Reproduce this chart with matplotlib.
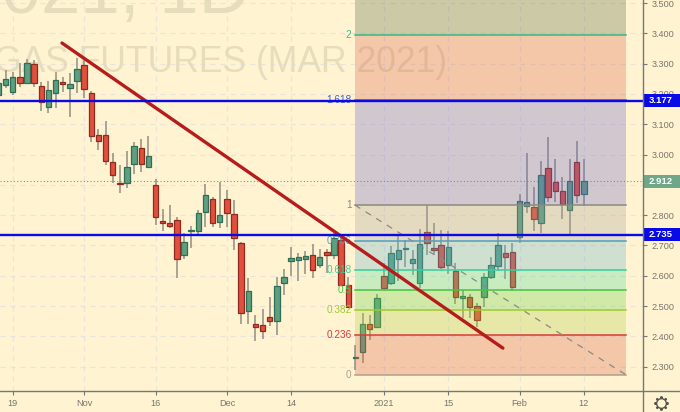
import matplotlib
matplotlib.use("Agg")
import matplotlib.pyplot as plt
from matplotlib.lines import Line2D
from matplotlib.patches import Rectangle
from matplotlib.transforms import blended_transform_factory
import numpy as np

plt.rcParams['font.family'] = ['Liberation Sans', 'DejaVu Sans']

# daily bars, Oct 2020 - Feb 2021
opens = [3.196,3.231,3.208,3.255,3.235,3.299,3.225,3.156,3.202,3.239,3.221,3.244,3.296,3.203,3.065,3.065,2.974,2.905,2.907,2.968,3.021,2.960,
         2.898,2.779,2.773,2.783,2.667,2.749,2.749,2.809,2.852,2.776,2.853,2.803,2.707,2.483,2.440,2.436,2.465,2.449,2.575,2.649,2.652,2.654,
         2.667,2.634,2.678,2.667,2.718,2.569,2.329,2.348,2.442,2.432,2.599,2.575,2.656,2.688,2.643,2.575,2.743,2.691,2.700,2.635,2.617,2.525,
         2.529,2.499,2.529,2.597,2.633,2.674,2.679,2.729,2.830,2.826,2.775,2.955,2.908,2.881,2.818,2.974,2.870]
closes = [3.235,3.248,3.255,3.235,3.301,3.237,3.173,3.212,3.245,3.233,3.232,3.282,3.216,3.061,3.045,2.977,2.933,2.902,2.958,3.027,2.968,2.996,
          2.793,2.775,2.765,2.656,2.710,2.751,2.807,2.865,2.775,2.800,2.806,2.723,2.476,2.551,2.430,2.419,2.452,2.565,2.597,2.660,2.662,2.665,
          2.619,2.663,2.667,2.726,2.569,2.498,2.331,2.440,2.423,2.525,2.561,2.674,2.685,2.691,2.654,2.705,2.707,2.685,2.630,2.696,2.529,2.532,
          2.496,2.454,2.597,2.634,2.700,2.663,2.564,2.848,2.842,2.787,2.934,2.861,2.881,2.836,2.912,2.867,2.912]
highs = [3.248,3.279,3.271,3.301,3.314,3.312,3.238,3.243,3.271,3.255,3.268,3.318,3.312,3.211,3.083,3.111,3.004,2.964,3.010,3.041,3.050,3.062,
         2.920,2.819,2.833,2.793,2.740,2.764,2.817,2.902,2.861,2.910,2.883,2.850,2.712,2.591,2.470,2.489,2.531,2.597,2.623,2.696,2.674,2.680,
         2.705,2.687,2.687,2.740,2.734,2.595,2.371,2.476,2.470,2.539,2.643,2.698,2.732,2.718,2.685,2.755,2.833,2.773,2.751,2.748,2.641,2.553,
         2.540,2.511,2.608,2.663,2.740,2.701,2.709,2.870,3.005,2.894,2.979,3.058,2.985,2.927,2.984,3.046,2.985]
lows = [3.191,3.219,3.197,3.224,3.233,3.222,3.145,3.138,3.153,3.206,3.123,3.202,3.186,3.041,3.015,2.964,2.905,2.874,2.891,2.935,2.942,2.954,
        2.768,2.749,2.756,2.594,2.654,2.693,2.731,2.762,2.760,2.758,2.762,2.685,2.441,2.441,2.386,2.392,2.435,2.404,2.536,2.599,2.583,2.606,
        2.591,2.626,2.608,2.654,2.569,2.498,2.289,2.313,2.388,2.432,2.553,2.569,2.584,2.630,2.602,2.558,2.668,2.672,2.622,2.605,2.506,2.459,
        2.459,2.430,2.498,2.588,2.614,2.590,2.551,2.709,2.808,2.746,2.740,2.843,2.843,2.787,2.738,2.840,2.831]

date_ticks = [2, 12, 22, 32, 41, 54, 63, 73, 82]
date_labels = ["19", "Nov", "16", "Dec", "14", "2021", "15", "Feb", "12"]
price_ticks = [2.3, 2.4, 2.5, 2.6, 2.7, 2.8, 2.9, 3.0, 3.1, 3.2, 3.3, 3.4, 3.5]

fib_ratios = [0, 0.236, 0.382, 0.5, 0.618, 0.786, 1, 1.618, 2]
fib_labels = ["0", "0.236", "0.382", "0.5", "0.618", "0.786", "1", "1.618", "2"]
fib_low = 2.272
fib_high = 2.833
fib_start = 49.94
fib_end = 87.96
fib_colors = ["#b0a090", "#d93b3b", "#9ccc2e", "#45c445", "#35cf9a", "#4f9fc4", "#8a8a80", "#3f5fd0", "#35b88a"]
fib_fills = ["#da6449", "#b2cf49", "#69d549", "#4bdc99", "#62b1cf", "#a8a399", "#6967cb", "#da6449", "#556b43"]

trend_x = [8.9, 70.66]
trend_y = [3.368, 2.361]
levels = [3.177, 2.735]
last_price = 2.912

BG = "#fff3d1"
GREY = "#77776f"
BLUE = "#0a0ae6"

fig = plt.figure(figsize=(6.8, 4.12), dpi=100, facecolor=BG)
ax = fig.add_axes([0, 21/412, 643/680, 391/412])
ax.patch.set_alpha(0)
ax.set_xlim(0.22, 90.28)
ax.set_ylim(2.2195, 3.51)

ax.grid(color="#d9d9e6", alpha=0.6, ls=(0, (4, 4)), lw=0.9)
ax.set_axisbelow(True)

# watermark
fig.text(221/680, 1-62/412, "GAS FUTURES (MAR 2021)", fontsize=25.6, color="#787b60", alpha=0.18,
         ha="center", va="center", zorder=-1)
fig.text(250/680, 1-13/412, "2021, 1D", fontsize=51, color="#787b60", alpha=0.18,
         ha="right", va="baseline", zorder=-1)

# candles
for i in range(len(opens)):
    up = closes[i] >= opens[i]
    body = "#5f9f80" if up else "#e0503c"
    edge = "#2f6e55" if up else "#8f2a20"
    ax.plot([i, i], [lows[i], highs[i]], color="#8f8f85", lw=1.1, zorder=2, solid_capstyle="butt")
    lo, hi = min(opens[i], closes[i]), max(opens[i], closes[i])
    ax.add_patch(Rectangle((i-0.38, lo), 0.76, hi-lo, fc=body, ec=edge, lw=0.9, zorder=3))

# fib retracement goes over the candles
fib_prices = [fib_low + r*(fib_high-fib_low) for r in fib_ratios]
tops = fib_prices[1:] + [3.51]
for low, top, c in zip(fib_prices, tops, fib_fills):
    ax.fill_between([fib_start, fib_end], low, top, color=c, alpha=0.3, lw=0, zorder=4)
for p, c, lab in zip(fib_prices, fib_colors, fib_labels):
    ax.plot([fib_start, fib_end], [p, p], color=c, lw=1.1, zorder=5)
    ax.annotate(lab, (fib_start, p), xytext=(-2.5, 0), textcoords="offset points", ha="right",
                va="center", fontsize=7.2, color=c, zorder=6)
ax.plot([fib_start, fib_end], [fib_high, fib_low], color="#8a8a85", lw=0.9, ls=(0, (5, 5)), zorder=5)

ax.plot(trend_x, trend_y, color="#b71c1c", lw=2.4, zorder=7, solid_capstyle="round")
for lvl in levels:
    ax.axhline(lvl, color=BLUE, lw=1.7, zorder=8)
ax.axhline(last_price, color="#6f9f7f", lw=0.8, ls=(0, (1, 2)), zorder=2.5)

ax.set_xticks(date_ticks)
ax.set_xticklabels(date_labels)
ax.set_yticks(price_ticks)
# the 2.900 label is hidden by the last price tag
ax.set_yticklabels(["" if p == 2.9 else f"{p:.3f}" for p in price_ticks])
ax.yaxis.tick_right()
ax.tick_params(axis="both", length=3, width=0.8, color=GREY, labelcolor=GREY, labelsize=6.6, pad=3)
for s in ax.spines.values():
    s.set_visible(False)
fig.add_artist(Line2D([0, 1], [21/412, 21/412], color=GREY, lw=1))
fig.add_artist(Line2D([643/680, 643/680], [0, 1], color=GREY, lw=1))

# price tags on the axis
tag = blended_transform_factory(fig.transFigure, ax.transData)
for lvl, c in [(levels[0], BLUE), (levels[1], BLUE), (last_price, "#6fa888")]:
    ax.add_patch(Rectangle((643/680, lvl-0.0215), 37/680, 0.043, transform=tag, fc=c, ec="none",
                           clip_on=False, zorder=10))
    ax.text(661/680, lvl, f"{lvl:.3f}", transform=tag, ha="center", va="center", fontsize=6.8,
            color="white", fontweight="bold", clip_on=False, zorder=11)

# settings gear in the corner
fig.add_artist(Line2D([661/680], [1-403/412], marker=(8, 2), ms=10, mew=1.5, mec="#555550", ls="none"))
fig.add_artist(Line2D([661/680], [1-403/412], marker="o", ms=7, mew=1, mec="#555550", mfc=BG, ls="none"))

fig.savefig("out.png", dpi=100, facecolor=BG)
